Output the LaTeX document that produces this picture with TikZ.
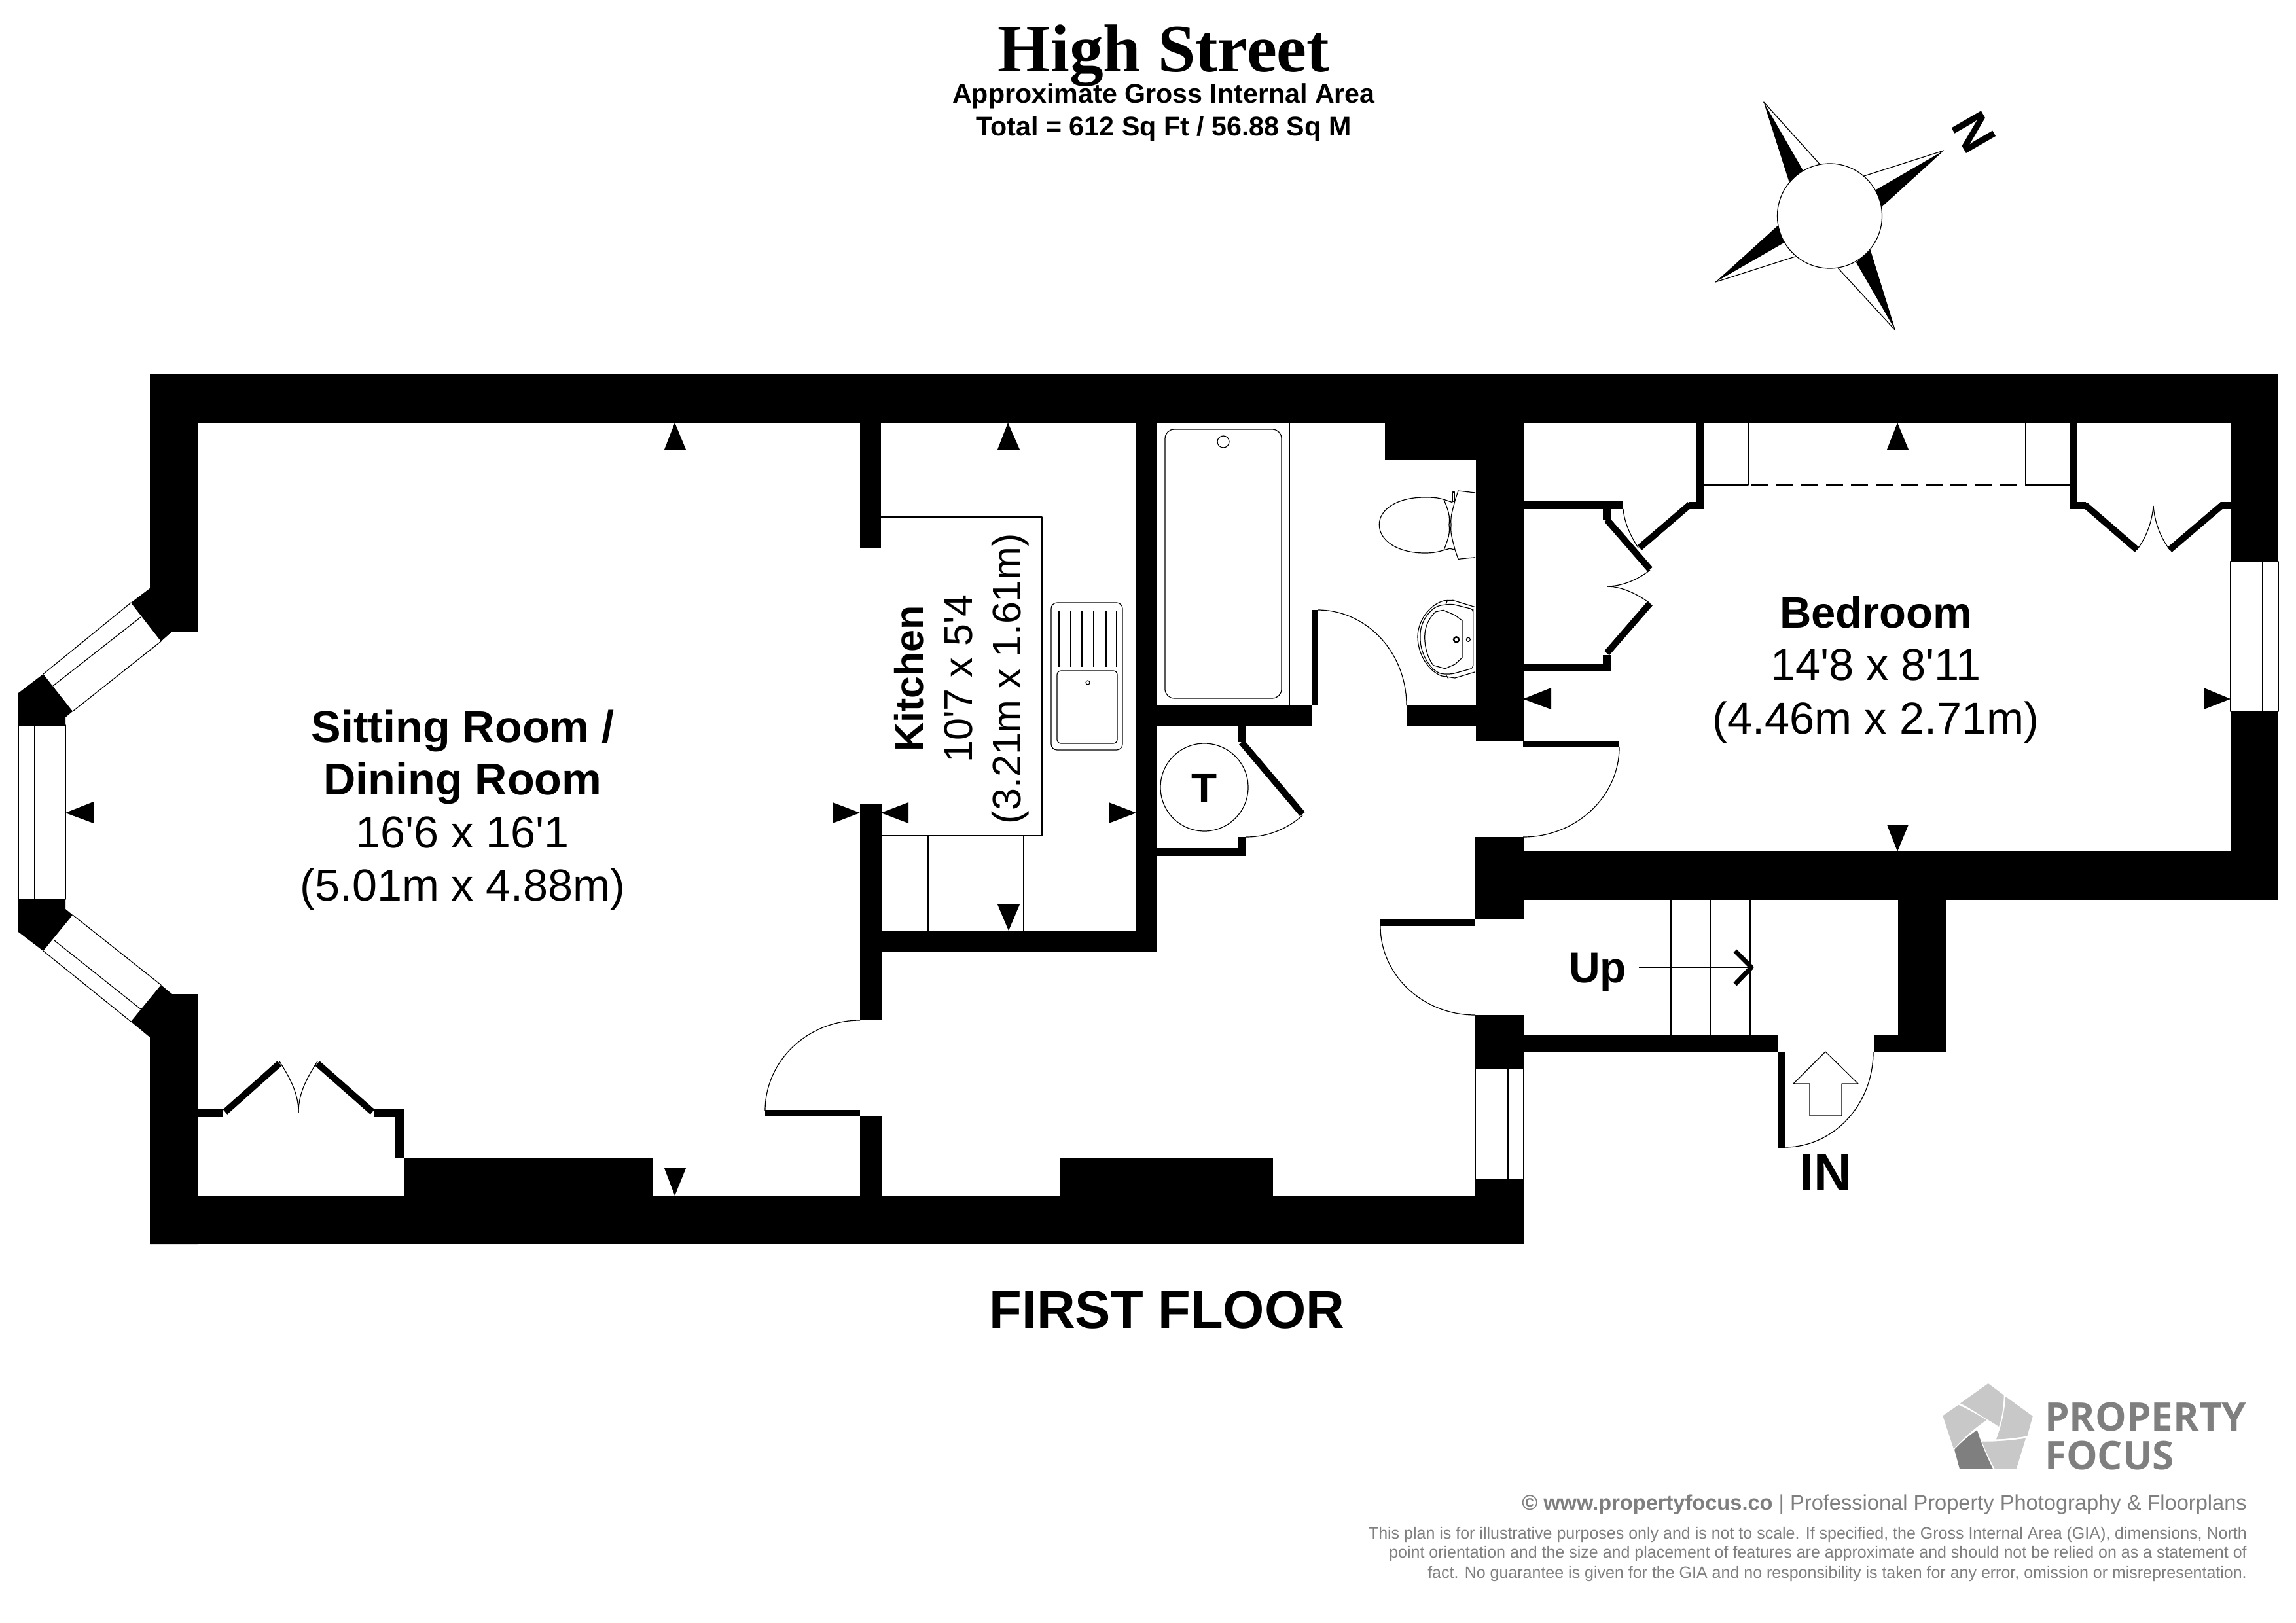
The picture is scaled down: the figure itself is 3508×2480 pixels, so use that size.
\documentclass[tikz,border=0pt]{standalone}
\usepackage{fontspec}
\setmainfont{Liberation Sans}
\newfontfamily\headfont{Liberation Serif}
\newfontfamily\logofont{Open Sans}
\newcommand\fsz[1]{\fontsize{#1}{#1}\selectfont}
\newcommand\sq{\textquotesingle}
\tikzset{
  wall/.style={fill=black,draw=none},
  tick/.style={fill=black,draw=none},
  fine/.style={draw=black,line width=1.2pt,line join=round},
  leaf/.style={draw=black,line width=10pt},
  lab/.style={inner sep=0pt,anchor=base,text=black},
  grayline/.style={inner sep=0pt,anchor=base east,text=footgray},
}
\definecolor{footgray}{HTML}{7F7F7F}
\definecolor{logolight}{HTML}{C8C8C8}
\definecolor{logodark}{HTML}{7F7F7F}
\begin{document}
\begin{tikzpicture}[x=1pt,y=-1pt]
\useasboundingbox (0,0) rectangle (3508,2480);
% --- outer and structural walls
\fill[wall] (229,572) rectangle (3481,646);
\fill[wall] (229,572) -- (229,899) -- (200,921) -- (246,980) -- (263,965) -- (302,965) -- (302,572) -- cycle;
\fill[wall] (229,1901) -- (229,1585) -- (200,1561) -- (246,1505) -- (263,1519) -- (302,1519) -- (302,1901) -- cycle;
\fill[wall] (229,1827) rectangle (2328,1901);
% bay blocks
\fill[wall] (66,1030) -- (28,1059) -- (28,1108) -- (100,1108) -- (100,1096) -- (111,1087) -- cycle;
\fill[wall] (66,1453) -- (28,1424) -- (28,1374) -- (100,1374) -- (100,1389) -- (111,1398) -- cycle;
% sitting room / kitchen partition
\fill[wall] (1314,646) rectangle (1346,838);
\fill[wall] (1314,1228) rectangle (1347,1559);
\fill[wall] (1314,1705) rectangle (1347,1827);
\fill[wall] (1314,1422) rectangle (1768,1455);
\fill[wall] (1736,646) rectangle (1768,1455);
% chimney breasts
\fill[wall] (617,1769) rectangle (998,1827);
\fill[wall] (1620,1769) rectangle (1945,1827);
% bathroom
\fill[wall] (1768,1078) rectangle (2004,1110);
\fill[wall] (2004,932) rectangle (2013,1078);
\fill[wall] (2149,1078) rectangle (2255,1110);
\fill[wall] (2116,646) rectangle (2255,703);
\fill[wall] (2255,646) rectangle (2328,1133);
% hall walls
\fill[wall] (2254,1279) rectangle (2328,1405);
\fill[wall] (2254,1551) rectangle (2328,1632);
\fill[wall] (2254,1803) rectangle (2328,1901);
% bedroom
\fill[wall] (3408,572) rectangle (3481,858);
\fill[wall] (3408,1087) rectangle (3481,1375);
\fill[wall] (2254,1301) rectangle (3481,1375);
% stair enclosure
\fill[wall] (2328,1582) rectangle (2717,1608);
\fill[wall] (2863,1582) rectangle (2973,1608);
\fill[wall] (2900,1375) rectangle (2973,1608);
% airing cupboard
\fill[wall] (1892,1110) rectangle (1904,1134);
\fill[wall] (1768,1296) rectangle (1904,1308);
\fill[wall] (1892,1279) rectangle (1904,1308);
\draw[leaf] (1897,1134) -- (1990,1244);
% sitting room cupboard
\fill[wall] (302,1694) rectangle (341,1707);
\fill[wall] (571,1694) rectangle (617,1707);
\fill[wall] (604,1694) rectangle (617,1769);
\draw[leaf] (344,1699) -- (427,1625);
\draw[leaf] (485,1625) -- (569,1699);
\draw[fine] (427,1622) .. controls (445,1650) and (456,1672) .. (456,1700);
\draw[fine] (485,1622) .. controls (467,1650) and (456,1672) .. (456,1700);
% bedroom cupboard left
\fill[wall] (2591,646) rectangle (2604,778);
\fill[wall] (2580,767) rectangle (2604,778);
\draw[leaf] (2582,771) -- (2505,837);
\fill[wall] (2327,766) rectangle (2480,778);
\fill[wall] (2449,778) rectangle (2461,794);
\draw[leaf] (2455,794) -- (2521,870);
\draw[leaf] (2521,922) -- (2455,998);
\fill[wall] (2449,1001) rectangle (2461,1025);
\fill[wall] (2327,1014) rectangle (2461,1025);
\draw[fine] (2480,778) .. controls (2482,800) and (2492,820) .. (2503,837);
\draw[fine] (2521,871) .. controls (2505,884) and (2480,896) .. (2455,896);
\draw[fine] (2521,922) .. controls (2505,910) and (2480,896) .. (2455,896);
% bedroom wardrobe right
\fill[wall] (3162,646) rectangle (3173,778);
\fill[wall] (3162,767) rectangle (3187,778);
\draw[leaf] (3185,771) -- (3265,840);
\draw[leaf] (3315,840) -- (3396,771);
\fill[wall] (3394,767) rectangle (3408,778);
\draw[fine] (3265,840) .. controls (3280,820) and (3288,797) .. (3290,773);
\draw[fine] (3315,840) .. controls (3300,820) and (3292,797) .. (3290,773);
% sliding wardrobe lines
\draw[fine] (2671,646) -- (2671,741) -- (2604,741);
\draw[fine] (3095,646) -- (3095,741) -- (3162,741);
\draw[fine,dash pattern=on 26pt off 12pt] (2676,741) -- (3095,741);
% door leaves and swings
\fill[wall] (1169,1696) rectangle (1314,1706);
\draw[fine] (1314,1559) .. controls (1234,1559) and (1169,1621) .. (1169,1697);
\draw[fine] (2013,932) .. controls (2088,932) and (2149,997) .. (2149,1078);
\fill[wall] (2327,1132) rectangle (2474,1142);
\draw[fine] (2474,1142) .. controls (2474,1217) and (2408,1279) .. (2327,1279);
\fill[wall] (2108,1405) rectangle (2254,1415);
\draw[fine] (2109,1415) .. controls (2109,1490) and (2174,1551) .. (2254,1551);
\fill[wall] (2717,1607) rectangle (2727,1754);
\draw[fine] (2727,1753) .. controls (2801,1753) and (2862,1688) .. (2862,1608);
\draw[fine] (1990,1246) .. controls (1965,1268) and (1935,1279) .. (1904,1279);
% windows
\draw[fine] (28,1108) rectangle (100,1374);
\draw[fine] (53,1108) -- (53,1374);
\draw[fine] (200,921) -- (66,1030);
\draw[fine] (246,980) -- (111,1087);
\draw[fine] (215,943) -- (81,1048);
\draw[fine] (200,1561) -- (66,1453);
\draw[fine] (246,1505) -- (111,1398);
\draw[fine] (215,1542) -- (83,1437);
\draw[fine] (2254,1632) rectangle (2328,1803);
\draw[fine] (2304,1632) -- (2304,1803);
\draw[fine] (3408,858) rectangle (3481,1087);
\draw[fine] (3457,858) -- (3457,1087);
% kitchen worktop
\draw[fine] (1346,790) -- (1592,790) -- (1592,1277) -- (1346,1277);
\draw[fine] (1418,1277) -- (1418,1422);
\draw[fine] (1564,1277) -- (1564,1422);
% sink
\draw[fine,rounded corners=9pt] (1606,921) rectangle (1715,1146);
\draw[fine,rounded corners=6pt] (1615,1025) rectangle (1707,1136);
\draw[fine] (1662,1043) circle[radius=3];
\foreach \gx in {1618,1636,1653,1671,1690,1706} {\draw[fine] (\gx,933) -- (\gx,1019);}
% bath
\draw[fine] (1970,646) -- (1970,1078);
\draw[fine,rounded corners=14pt] (1780,656) rectangle (1958,1067);
\draw[fine] (1869,675) circle[radius=9];
% toilet
\draw[fine] (2206,763.3) .. controls (2195,760) and (2188,760) .. (2176.7,760)
  .. controls (2135,760) and (2107.3,778) .. (2107.3,801.7)
  .. controls (2107.3,826) and (2135,845) .. (2176.7,845)
  .. controls (2188,845) and (2195,844) .. (2206,840.7)
  .. controls (2212,825) and (2216,815) .. (2214,801.7)
  .. controls (2216,788) and (2212,778) .. (2206,763.3) -- cycle;
\draw[fine] (2206,763.3) -- (2218,767.3) -- (2223,765);
\draw[fine] (2206,840.7) -- (2215,838.3) -- (2223,840);
\draw[fine] (2254,753) -- (2228,750) -- (2223,765)
  .. controls (2218,785) and (2216,790) .. (2217,801.7)
  .. controls (2216,815) and (2218,820) .. (2223,840) -- (2228,854.3) -- (2254,851.7);
\draw[fine] (2219.3,767) -- (2219.3,752) -- (2222.7,752) -- (2222.7,765);
% basin
\draw[fine] (2254,927.7) -- (2220,917.3) -- (2206.7,917.7)
  .. controls (2183,924) and (2166,950) .. (2166,973)
  .. controls (2166,1000) and (2183,1026) .. (2203,1033) -- (2223,1036) -- (2254,1026.7);
\draw[fine,rounded corners=4pt] (2250.7,935) -- (2250.7,931) -- (2218,923) -- (2200,925)
  .. controls (2183,932) and (2170,952) .. (2170,973)
  .. controls (2170,996) and (2183,1022) .. (2203,1030) -- (2218,1030) -- (2250.7,1021) -- cycle;
\draw[fine] (2234,948.3) -- (2223,940) -- (2205,932.3) -- (2193,935)
  .. controls (2183,945) and (2176.7,958) .. (2176.7,973)
  .. controls (2176.7,992) and (2183,1008) .. (2190,1016.7) -- (2208,1021.7) -- (2223,1015) -- (2234,1005) -- cycle;
\draw[fine] (2211.7,917) -- (2209.3,923);
\draw[fine] (2209.3,1031.7) -- (2212.7,1036.7);
\draw[draw=black,line width=2.5pt] (2225,977.3) circle[radius=4];
\draw[fine] (2243.3,977.3) circle[radius=3];
% airing cupboard tank
\draw[fine] (1840,1203) circle[radius=67];
\node[lab,font=\fsz{64}\bfseries] (tanklabel) at (1840,1226) {T};
% dimension ticks
\fill[tick] (1031,646) -- (1015,687) -- (1048,687) -- cycle;
\fill[tick] (1031,1827) -- (1015,1785) -- (1048,1785) -- cycle;
\fill[tick] (100,1242) -- (143,1225) -- (143,1258) -- cycle;
\fill[tick] (1314,1242) -- (1272,1226) -- (1272,1258) -- cycle;
\fill[tick] (1346,1242) -- (1388,1226) -- (1388,1258) -- cycle;
\fill[tick] (1736,1242) -- (1694,1226) -- (1694,1258) -- cycle;
\fill[tick] (1540,646) -- (1524,687) -- (1558,687) -- cycle;
\fill[tick] (1541,1422) -- (1524,1382) -- (1558,1382) -- cycle;
\fill[tick] (2899,646) -- (2883,687) -- (2916,687) -- cycle;
\fill[tick] (2899,1301) -- (2883,1260) -- (2916,1260) -- cycle;
\fill[tick] (2327,1068) -- (2370,1051) -- (2370,1084) -- cycle;
\fill[tick] (3408,1068) -- (3367,1051) -- (3367,1084) -- cycle;
% stairs
\draw[fine] (2553,1375) -- (2553,1582);
\draw[fine] (2613,1375) -- (2613,1582);
\draw[fine] (2674,1375) -- (2674,1582);
\draw[fine] (2504,1478) -- (2678,1478);
\draw[draw=black,line width=7pt,line join=round] (2651,1453) -- (2676,1478) -- (2651,1504);
% entry arrow
\draw[fine] (2789,1607) -- (2839,1656) -- (2814,1656) -- (2814,1705) -- (2765,1705) -- (2765,1656) -- (2740,1656) -- cycle;
% room labels
\node[lab,font=\fsz{68.3}\bfseries] (sit1) at (707,1134) {Sitting Room /};
\node[lab,font=\fsz{68.3}\bfseries] (sit2) at (707,1214) {Dining Room};
\node[lab,font=\fsz{68.3}] (sit3) at (707,1295) {16\sq6 x 16\sq1};
\node[lab,font=\fsz{68.3}] (sit4) at (707,1376) {(5.01m x 4.88m)};
\node[lab,font=\fsz{61}\bfseries,rotate=90] (kit1) at (1410,1037) {Kitchen};
\node[lab,font=\fsz{61},rotate=90] (kit2) at (1485,1037) {10\sq7 x 5\sq4};
\node[lab,font=\fsz{61},rotate=90] (kit3) at (1559,1037) {(3.21m x 1.61m)};
\node[lab,font=\fsz{67}\bfseries] (bed1) at (2866,959) {Bedroom};
\node[lab,font=\fsz{68.5}] (bed2) at (2866,1039) {14\sq8 x 8\sq11};
\node[lab,font=\fsz{68.5}] (bed3) at (2866,1121) {(4.46m x 2.71m)};
\node[lab,font=\fsz{66}\bfseries] (up) at (2441,1501) {Up};
\node[lab,font=\fsz{80}\bfseries] (in) at (2789,1819) {IN};
\node[lab,font=\fsz{81.4}\bfseries] (floor) at (1783,2029) {FIRST FLOOR};
% heading
\node[lab,font=\headfont\fsz{103.4}\bfseries] (title) at (1778,110) {High Street};
\node[lab,font=\fsz{41.2}\bfseries] (area) at (1778,158) {Approximate Gross Internal Area};
\node[lab,font=\fsz{41.2}\bfseries] (total) at (1778,208) {Total = 612 Sq Ft / 56.88 Sq M};
% compass
\fill[tick] (2694.5,155.7) -- (2754.5,260) -- (2733.5,278) -- cycle;
\fill[tick] (2970,230) -- (2865,290.7) -- (2874.5,316.7) -- cycle;
\fill[tick] (2621,431) -- (2716,345) -- (2726,370.7) -- cycle;
\fill[tick] (2896,505) -- (2857.6,381.7) -- (2836,401) -- cycle;
\draw[fine] (2694.5,155.7) -- (2781,251.7);
\draw[fine] (2970,230) -- (2848,269);
\draw[fine] (2621,431) -- (2743,392);
\draw[fine] (2896,505) -- (2808.5,410);
\draw[fine,fill=white] (2795.5,330) circle[radius=80];
\node[inner sep=0pt,font=\fsz{76}\bfseries,rotate=-60] (north) at (3016,202) {N};
% logo
\fill[logolight] (3037.7,2114) -- (3061.7,2132) .. controls (3061,2150) and (3059,2165) .. (3054,2180) .. controls (3048,2176) and (3042,2172) .. (3035,2168.3) .. controls (3022,2160) and (3009,2151) .. (2995,2144.3) -- cycle;
\fill[logolight] (3064.3,2134) -- (3105.7,2164) -- (3097.3,2194.3) .. controls (3082,2197) and (3066,2199) .. (3050,2199.3) .. controls (3058,2178) and (3063,2156) .. (3064.3,2134) -- cycle;
\fill[logolight] (2992.3,2146.7) .. controls (3006,2153) and (3021,2161) .. (3035,2170) .. controls (3017,2182) and (3000,2197) .. (2985,2214) -- (2968.3,2163.3) -- cycle;
\fill[logodark] (3020.7,2185) .. controls (3027,2205) and (3035,2225) .. (3045,2244.3) -- (2994,2244.3) -- (2986,2215) .. controls (2996,2204) and (3008,2194) .. (3020.7,2185) -- cycle;
\fill[logolight] (3028.3,2202.7) .. controls (3050,2203) and (3073,2201) .. (3095,2197.7) -- (3080.7,2244.3) -- (3047.7,2244.3) .. controls (3040,2230) and (3033,2216) .. (3028.3,2202.7) -- cycle;
\node[inner sep=0pt,anchor=base west,text=footgray,font=\logofont\fsz{60}\bfseries] (logo1) at (3124,2186) {PROPERTY};
\node[inner sep=0pt,anchor=base west,text=footgray,font=\logofont\fsz{60}\bfseries] (logo2) at (3124,2245) {FOCUS};
% footer
\node[grayline,font=\fsz{32.6}] (web) at (3433,2307) {\textbf{© www.propertyfocus.co} | Professional Property Photography \& Floorplans};
\node[grayline,font=\fsz{25}] (disc1) at (3433,2351) {This plan is for illustrative purposes only and is not to scale. If specified, the Gross Internal Area (GIA), dimensions, North};
\node[grayline,font=\fsz{25}] (disc2) at (3433,2380) {point orientation and the size and placement of features are approximate and should not be relied on as a statement of};
\node[grayline,font=\fsz{25}] (disc3) at (3433,2411) {fact. No guarantee is given for the GIA and no responsibility is taken for any error, omission or misrepresentation.};
\end{tikzpicture}
\end{document}
